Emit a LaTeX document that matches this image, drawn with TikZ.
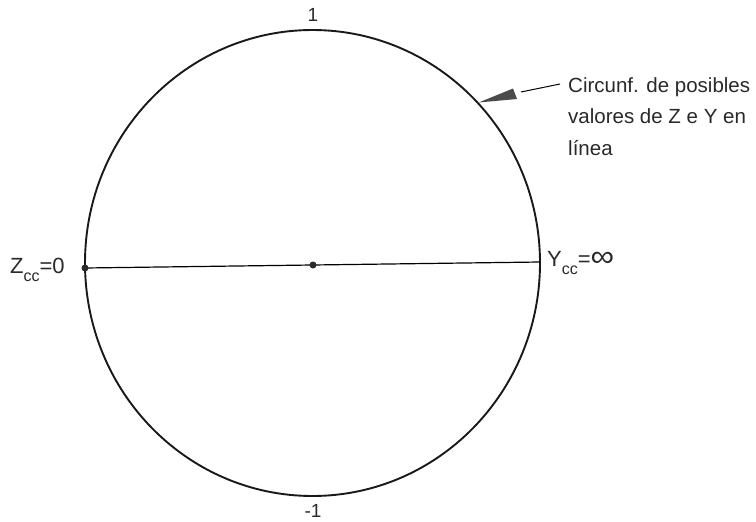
\documentclass[tikz,border=0pt]{standalone}
\usepackage{fontspec}
\setmainfont{Liberation Sans}
\usetikzlibrary{shapes.geometric}
\definecolor{ink}{HTML}{2A2A2A}
\definecolor{thin}{HTML}{707070}
\tikzset{
  lbl/.style={text=ink, inner sep=0pt, font=\fontsize{22}{26}\selectfont},
  dotmark/.style={circle, fill=ink, inner sep=0pt, minimum size=7pt},
}
\newcommand{\subcc}{\raisebox{-0.38em}{\fontsize{16}{16}\selectfont cc}}
\begin{document}
\begin{tikzpicture}[x=1pt,y=-1pt]
\useasboundingbox (0,0) rectangle (756,522);
\fill[white] (0,0) rectangle (756,522);
\node (C) [draw=black!90, line width=1.9pt, ellipse, minimum width=455pt, minimum height=466pt, inner sep=0pt] at (312.5,263) {};
\coordinate (L) at (85,268);
\coordinate (R) at (540,262);
\coordinate (O) at (313,265);
\draw[thin, line width=1.2pt] (L) -- (R);
\node[dotmark] (dl) at (L) {};
\node[dotmark] (dc) at (O) {};
% labels
\node[lbl, anchor=base, font=\fontsize{19}{22}\selectfont] (one) at (313,21) {1};
\node[lbl, anchor=base, font=\fontsize{19}{22}\selectfont] (mone) at (313,517) {-1};
\node[lbl, anchor=base west] (Z) at (10,273) {Z\subcc=0};
\node[lbl, anchor=base west] (Y) at (547,266) {Y\subcc=\scalebox{1.5}[1.35]{∞}};
% pointer
\coordinate (tip) at (C.44);
\coordinate (b1) at (513,88.5);
\coordinate (b2) at (517,99);
\fill[ink!85] (tip) -- (b1) -- (b2) -- cycle;
\coordinate (l1) at (521,92);
\coordinate (l2) at (560,84);
\draw[thin, line width=1pt] (l1) -- (l2);
\node[lbl, anchor=base west, align=left, font=\fontsize{20.5}{31.5}\selectfont] (txt) at (568,155) {Circunf. de posibles\\valores de Z e Y en\\línea};
\end{tikzpicture}
\end{document}
